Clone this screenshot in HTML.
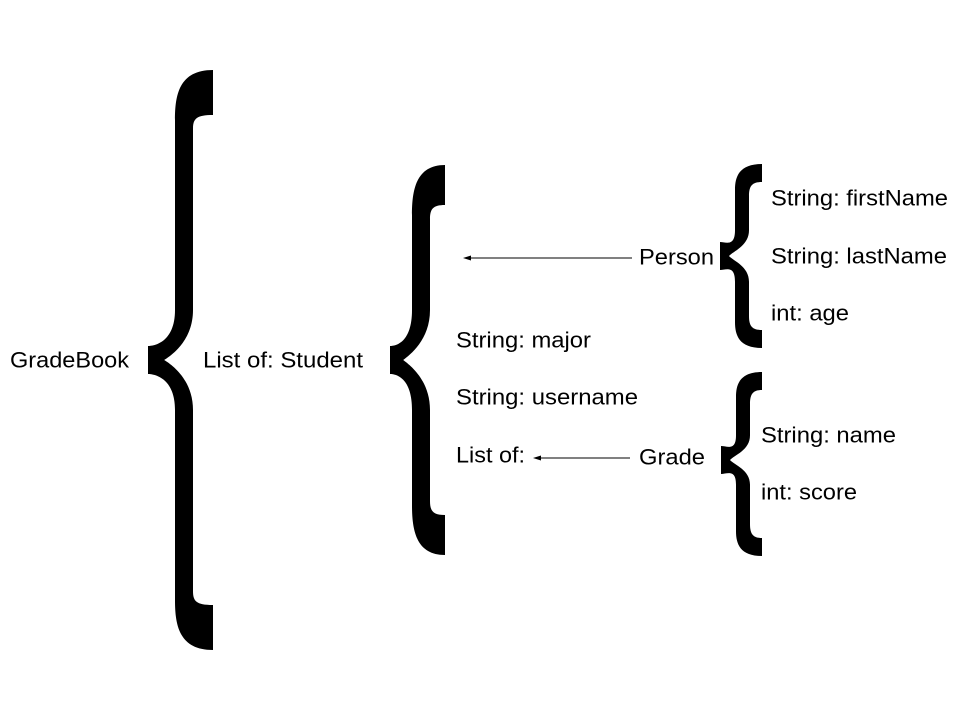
<!DOCTYPE html>
<html><head><meta charset="utf-8"><style>
html,body{margin:0;padding:0;background:#fff;}
svg{display:block}
text{font-family:"Liberation Sans",Arial,sans-serif;font-size:22px;fill:#000;dominant-baseline:central}
</style></head><body>
<svg id="s" width="960" height="720" viewBox="0 0 960 720" xmlns="http://www.w3.org/2000/svg">
<g id="br"></g>
<line x1="632" y1="258" x2="468" y2="258" stroke="#000" stroke-width="1"/>
<line x1="630" y1="458" x2="538" y2="458" stroke="#000" stroke-width="1"/>
<path d="M463,258 l8,-2.5 v5z M533,458 l8,-2.5 v5z" fill="#000"/>
<text x="10" y="360" textLength="119" lengthAdjust="spacingAndGlyphs">GradeBook</text>
<text x="203" y="360" textLength="160" lengthAdjust="spacingAndGlyphs">List of: Student</text>
<text x="456" y="340" textLength="135" lengthAdjust="spacingAndGlyphs">String: major</text>
<text x="456" y="397" textLength="182" lengthAdjust="spacingAndGlyphs">String: username</text>
<text x="456" y="455" textLength="69" lengthAdjust="spacingAndGlyphs">List of:</text>
<text x="639" y="257" textLength="75" lengthAdjust="spacingAndGlyphs">Person</text>
<text x="639" y="457" textLength="66" lengthAdjust="spacingAndGlyphs">Grade</text>
<text x="771" y="198" textLength="177" lengthAdjust="spacingAndGlyphs">String: firstName</text>
<text x="771" y="256" textLength="176" lengthAdjust="spacingAndGlyphs">String: lastName</text>
<text x="771" y="313" textLength="78" lengthAdjust="spacingAndGlyphs">int: age</text>
<text x="761" y="435" textLength="135" lengthAdjust="spacingAndGlyphs">String: name</text>
<text x="761" y="492" textLength="96" lengthAdjust="spacingAndGlyphs">int: score</text>
</svg>
<script>
function brace(xl,xr,y0,y1,ym,s,t,hb){
 var xs=xl+s, xi=xs+t, h=(ym-y0), f=Math.min(50,h*0.28);
 var d="M"+xr+","+y0+
 " C"+(xs+4)+","+y0+" "+xs+","+(y0+f*0.5)+" "+xs+","+(y0+f)+
 " L"+xs+","+(ym-f)+
 " C"+xs+","+(ym-f*0.35)+" "+(xl+6)+","+(ym-14)+" "+xl+","+(ym-14)+
 " L"+xl+","+(ym+14)+
 " C"+(xl+6)+","+(ym+14)+" "+xs+","+(ym+f*0.35)+" "+xs+","+(ym+f)+
 " L"+xs+","+(y1-f)+
 " C"+xs+","+(y1-f*0.5)+" "+(xs+4)+","+y1+" "+xr+","+y1+
 " L"+xr+","+(y1-hb)+
 " C"+(xi+3)+","+(y1-hb)+" "+xi+","+(y1-hb-4)+" "+xi+","+(y1-hb-14)+
 " L"+xi+","+(ym+f)+
 " C"+xi+","+(ym+f*0.4)+" "+(xl+s*0.9)+","+(ym+5)+" "+(xl+s*0.6)+","+ym+
 " C"+(xl+s*0.9)+","+(ym-5)+" "+xi+","+(ym-f*0.4)+" "+xi+","+(ym-f)+
 " L"+xi+","+(y0+hb+14)+
 " C"+xi+","+(y0+hb+4)+" "+(xi+3)+","+(y0+hb)+" "+xr+","+(y0+hb)+" Z";
 var p=document.createElementNS("http://www.w3.org/2000/svg","path");
 p.setAttribute("d",d);p.setAttribute("fill","#000");
 document.getElementById("br").appendChild(p);
}
brace(148,213,70,650,360,27,18,45);
brace(390,445,165,555,360,22,18,40);
brace(720,762,164,348,256,15,14,18);
brace(721,762,372,556,460,15,14,18);
</script>
</body></html>
